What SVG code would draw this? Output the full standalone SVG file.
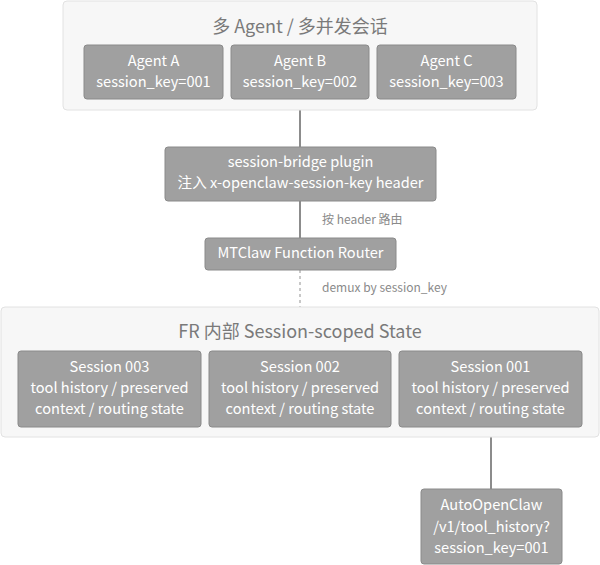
<svg xmlns="http://www.w3.org/2000/svg" width="600" height="565" viewBox="0 0 600 565">
<style>
text{font-family:"Noto Sans CJK SC","Noto Sans",sans-serif;text-anchor:middle;dominant-baseline:central}
.cl{fill:#f7f7f7;stroke:#e2e2e2;stroke-width:1}
.ct{fill:#7a7a7a;font-size:18px}
.n{fill:#a0a0a0;stroke:#8a8a8a;stroke-width:1}
.nt{fill:#ffffff;font-size:14.6px}
.e{stroke:#8c8c8c;stroke-width:2;fill:none}
.ed{stroke:#c8c8c8;stroke-width:2;fill:none;stroke-dasharray:3 3}
.el{fill:#8a8a8a;font-size:12px;text-anchor:start}
</style>
<rect width="600" height="565" fill="#ffffff"/>
<g id="connectors">
<line class="e" x1="300" y1="110" x2="300" y2="147"/>
<line class="e" x1="300" y1="201" x2="300" y2="238"/>
<text class="el" x="322" y="218">按 header 路由</text>
<line class="ed" x1="300" y1="270" x2="300" y2="307"/>
<text class="el" x="322" y="286">demux by session_key</text>
<line class="e" x1="491" y1="427" x2="491" y2="489" stroke="#bcbcbc"/>
</g>
<g id="cluster-agents">
<rect class="cl" x="63" y="1" width="474" height="109" rx="4"/>
<text class="ct" x="300" y="25">多 Agent / 多并发会话</text>
</g>
<g id="agentA">
<rect class="n" x="84" y="45" width="139" height="54" rx="3"/>
<text class="nt" x="153.5" y="59.5">Agent A</text>
<text class="nt" x="153.5" y="80.5">session_key=001</text>
</g>
<g id="agentB">
<rect class="n" x="231" y="45" width="138" height="54" rx="3"/>
<text class="nt" x="300" y="59.5">Agent B</text>
<text class="nt" x="300" y="80.5">session_key=002</text>
</g>
<g id="agentC">
<rect class="n" x="377" y="45" width="139" height="54" rx="3"/>
<text class="nt" x="446.5" y="59.5">Agent C</text>
<text class="nt" x="446.5" y="80.5">session_key=003</text>
</g>
<g id="bridge">
<rect class="n" x="165" y="147" width="271" height="54" rx="3"/>
<text class="nt" x="300.5" y="160.5">session-bridge plugin</text>
<text class="nt" x="300.5" y="181.5">注入 x-openclaw-session-key header</text>
</g>
<g id="router">
<rect class="n" x="205" y="238" width="191" height="32" rx="3"/>
<text class="nt" x="300.5" y="251.5">MTClaw Function Router</text>
</g>
<g id="cluster-state">
<rect class="cl" x="1" y="307" width="598" height="130" rx="4"/>
<text class="ct" x="300" y="330">FR 内部 Session-scoped State</text>
</g>
<g id="s003">
<rect class="n" x="18" y="351" width="183" height="76" rx="3"/>
<text class="nt" x="109.5" y="365.5">Session 003</text>
<text class="nt" x="109.5" y="386.5">tool history / preserved</text>
<text class="nt" x="109.5" y="407.5">context / routing state</text>
</g>
<g id="s002">
<rect class="n" x="209" y="351" width="182" height="76" rx="3"/>
<text class="nt" x="300" y="365.5">Session 002</text>
<text class="nt" x="300" y="386.5">tool history / preserved</text>
<text class="nt" x="300" y="407.5">context / routing state</text>
</g>
<g id="s001">
<rect class="n" x="399" y="351" width="183" height="76" rx="3"/>
<text class="nt" x="490.5" y="365.5">Session 001</text>
<text class="nt" x="490.5" y="386.5">tool history / preserved</text>
<text class="nt" x="490.5" y="407.5">context / routing state</text>
</g>
<g id="autoopenclaw">
<rect class="n" x="421" y="489" width="141" height="75" rx="3"/>
<text class="nt" x="491.5" y="503.5">AutoOpenClaw</text>
<text class="nt" x="491.5" y="525.5">/v1/tool_history?</text>
<text class="nt" x="491.5" y="546.5">session_key=001</text>
</g>
</svg>
